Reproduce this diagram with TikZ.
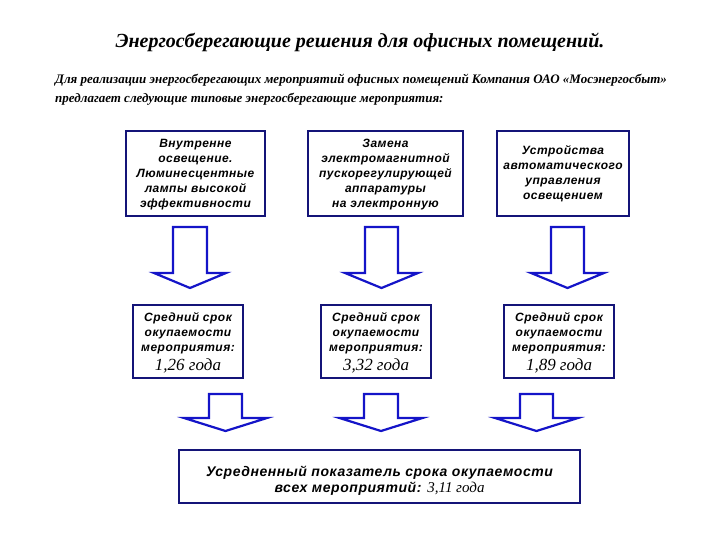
\documentclass[tikz,border=0pt]{standalone}
\usepackage{fontspec}
\setmainfont{Liberation Serif}
\setsansfont{Liberation Sans}
\newfontfamily\boxfont[LetterSpace=4]{Liberation Sans}
\definecolor{boxnavy}{RGB}{20,20,120}
\definecolor{arrowblue}{RGB}{20,20,200}
\newcommand\numfnt{\rmfamily\mdseries\itshape\fontsize{17}{18}\selectfont}
\newcommand\blockarr[7]{% name, cx, top, shaft half, shoulder y, head half, tip y
  \draw[arr] (#2-#4,#3) coordinate (#1top) -- (#2+#4,#3) -- (#2+#4,#5) -- (#2+#6,#5)
    -- (#2,#7) coordinate (#1tip) -- (#2-#6,#5) -- (#2-#4,#5) -- cycle;}
\begin{document}
\begin{tikzpicture}[x=1pt,y=-1pt,
  topbox/.style={draw=boxnavy, line width=2.4pt, fill=white, inner sep=0pt,
    minimum height=85pt, align=center,
    font=\boxfont\bfseries\itshape\fontsize{12}{15}\selectfont},
  resbox/.style={draw=boxnavy, line width=2.4pt, fill=white, inner sep=0pt,
    minimum width=110pt, minimum height=73pt, align=center,
    font=\boxfont\bfseries\itshape\fontsize{12}{15}\selectfont},
  arr/.style={draw=arrowblue, line width=2.2pt, fill=white, line join=miter}]
\useasboundingbox (0,0) rectangle (720,540);

\node[font=\rmfamily\bfseries\itshape\fontsize{20}{22}\selectfont, inner sep=0pt] (title) at (360,42)
  {Энергосберегающие решения для офисных помещений.};
\node[font=\rmfamily\bfseries\itshape\fontsize{13}{19}\selectfont, inner sep=0pt, align=left, anchor=north west] (intro) at (55,74)
  {Для реализации энергосберегающих мероприятий офисных помещений Компания ОАО «Мосэнергосбыт»\\
   предлагает следующие типовые энергосберегающие мероприятия:};

\node[topbox, minimum width=139pt] (b1) at (195.5,173.5)
  {\rule{0pt}{11pt}Внутренне\\освещение.\\Люминесцентные\\лампы высокой\\эффективности};
\node[topbox, minimum width=155pt] (b2) at (385.5,173.5)
  {\rule{0pt}{11pt}Замена\\электромагнитной\\пускорегулирующей\\аппаратуры\\на электронную};
\node[topbox, minimum width=132pt] (b3) at (563,173.5)
  {Устройства\\автоматического\\управления\\освещением};

\blockarr{a1}{190}{227}{17}{273}{36}{288}
\blockarr{a2}{381.5}{227}{16.5}{273}{36.5}{288}
\blockarr{a3}{567.5}{227}{16.5}{273}{36.5}{288}

\node[resbox] (r1) at (188,341.5)
  {\rule{0pt}{12pt}Средний срок\\окупаемости\\мероприятия:\\[4pt]{\numfnt 1,26 года}};
\node[resbox] (r2) at (376,341.5)
  {\rule{0pt}{12pt}Средний срок\\окупаемости\\мероприятия:\\[4pt]{\numfnt 3,32 года}};
\node[resbox] (r3) at (559,341.5)
  {\rule{0pt}{12pt}Средний срок\\окупаемости\\мероприятия:\\[4pt]{\numfnt 1,89 года}};

\blockarr{c1}{225.5}{394}{16.5}{418}{41.5}{431}
\blockarr{c2}{381}{394}{17}{418}{41.5}{431}
\blockarr{c3}{536.5}{394}{16.5}{418}{41.5}{431}

\node[draw=boxnavy, line width=2.4pt, fill=white, inner sep=0pt,
  minimum width=401pt, minimum height=53pt, align=center,
  font=\boxfont\bfseries\itshape\fontsize{14}{16}\selectfont] (avg) at (379.5,476.5)
  {\rule{0pt}{18pt}Усредненный показатель срока окупаемости\\всех мероприятий: {\rmfamily\mdseries\itshape\fontsize{15}{16}\selectfont 3,11 года}};
\end{tikzpicture}
\end{document}
